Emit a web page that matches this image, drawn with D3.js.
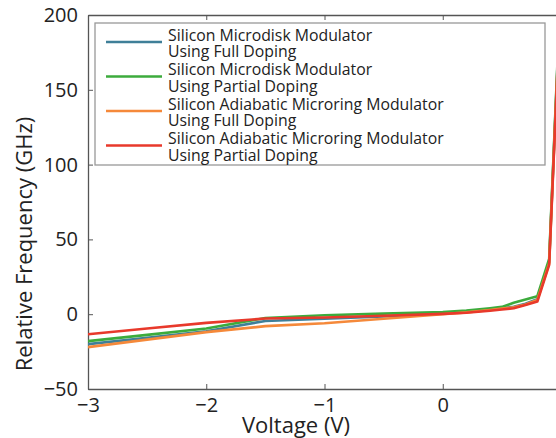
<html>
<head>
<style>
  body { margin: 0; background: #fff; }
  svg { display: block; font-family: "Open Sans", "Noto Sans", sans-serif; }
</style>
</head>
<body>
<svg id="chart" width="556" height="438"></svg>
<script src="https://cdn.jsdelivr.net/npm/d3@7"></script>
<script>
// voltage points (V)
const voltage = [-3, -2.5, -2, -1.5, -1, -0.5, 0, 0.2, 0.4, 0.5, 0.6, 0.7, 0.8, 0.9, 1.0];

// relative frequency shift (GHz) per device
const diskFull     = [-20, -15.8, -11.4, -4.5, -3, -1.5, 0.7, 1.6, 3, 4, 5, 7, 10, 35, 222];
const diskPartial  = [-18, -13.8, -9.6, -2.5, -0.7, 0.4, 1.5, 2.4, 4, 4.9, 7.6, 9.8, 12, 37, 224];
const ringFull     = [-22, -17, -12, -8, -6, -3, 0, 1.2, 2.8, 3.7, 4.6, 6.5, 9.5, 34, 220];
const ringPartial  = [-13.4, -9.6, -5.8, -2.9, -2.2, -1, 0.2, 1, 2.3, 3.1, 4, 6.2, 8.5, 33, 218];

const seriesNames = [
  ["Silicon Microdisk Modulator", "Using Full Doping"],
  ["Silicon Microdisk Modulator", "Using Partial Doping"],
  ["Silicon Adiabatic Microring Modulator", "Using Full Doping"],
  ["Silicon Adiabatic Microring Modulator", "Using Partial Doping"]
];
const seriesColors = ["#3f7f98", "#3cab3c", "#f5893a", "#e8392b"];

const xTicks = [-3, -2, -1, 0, 1];
const xTickLabels = ["\u22123", "\u22122", "\u22121", "0", ""];
const yTicks = [-50, 0, 50, 100, 150, 200];
const yTickLabels = ["\u221250", "0", "50", "100", "150", "200"];

const svg = d3.select("#chart");
const plotL = 88, plotT = 15, plotR = 561, plotB = 389;

const x = d3.scaleLinear().domain([-3, 1]).range([plotL, plotR]);
const y = d3.scaleLinear().domain([-50, 200]).range([plotB, plotT]);

svg.append("defs").append("clipPath").attr("id", "plotClip")
  .append("rect").attr("x", plotL).attr("y", plotT)
  .attr("width", plotR - plotL).attr("height", plotB - plotT);

// axes with inward ticks
const axisColor = "#555";
function styleAxis(g) {
  g.select(".domain").attr("stroke", axisColor).attr("stroke-width", 1.3);
  g.selectAll(".tick line").attr("stroke", axisColor);
  g.selectAll(".tick text").attr("fill", "#222").attr("font-size", 20)
    .attr("font-family", "\"Open Sans\", sans-serif");
}

svg.append("g").attr("transform", `translate(0,${plotB})`)
  .call(d3.axisBottom(x).tickValues(xTicks).tickFormat((d, i) => xTickLabels[i])
    .tickSizeInner(-5).tickSizeOuter(0).tickPadding(9))
  .call(styleAxis);
svg.append("g").attr("transform", `translate(0,${plotT})`)
  .call(d3.axisTop(x).tickValues(xTicks).tickFormat("").tickSizeInner(-5).tickSizeOuter(0))
  .call(styleAxis);
svg.append("g").attr("transform", `translate(${plotL},0)`)
  .call(d3.axisLeft(y).tickValues(yTicks).tickFormat((d, i) => yTickLabels[i])
    .tickSizeInner(-5).tickSizeOuter(0).tickPadding(10))
  .call(styleAxis);

// axis labels
svg.append("text").attr("x", 296).attr("y", 433).attr("text-anchor", "middle")
  .attr("font-size", 22).attr("fill", "#222").text("Voltage (V)");
svg.append("text").attr("transform", "translate(32,244) rotate(-90)")
  .attr("text-anchor", "middle").attr("font-size", 22).attr("fill", "#222")
  .text("Relative Frequency (GHz)");

// lines
const allSeries = [diskFull, diskPartial, ringFull, ringPartial];
const line = d3.line().x((d, i) => x(voltage[i])).y(d => y(d));
svg.append("g").attr("clip-path", "url(#plotClip)")
  .selectAll("path").data(allSeries).join("path")
  .attr("d", line).attr("fill", "none")
  .attr("stroke", (d, i) => seriesColors[i]).attr("stroke-width", 2.6)
  .attr("stroke-linejoin", "round");

// legend
const legend = svg.append("g");
legend.append("rect").attr("x", 95).attr("y", 23).attr("width", 450).attr("height", 142)
  .attr("fill", "#fff").attr("stroke", "#999").attr("stroke-width", 1.3);
seriesNames.forEach((name, i) => {
  const cy = 42 + i * 34.5;
  legend.append("line").attr("x1", 106).attr("x2", 162).attr("y1", cy).attr("y2", cy)
    .attr("stroke", seriesColors[i]).attr("stroke-width", 2.6);
  const txt = legend.append("text").attr("x", 168).attr("y", cy - 1.5)
    .attr("font-size", 15.8).attr("fill", "#222");
  name.forEach((t, j) => {
    txt.append("tspan").attr("x", 168).attr("dy", j === 0 ? 0 : 16.5).text(t);
  });
});
</script>
</body>
</html>
